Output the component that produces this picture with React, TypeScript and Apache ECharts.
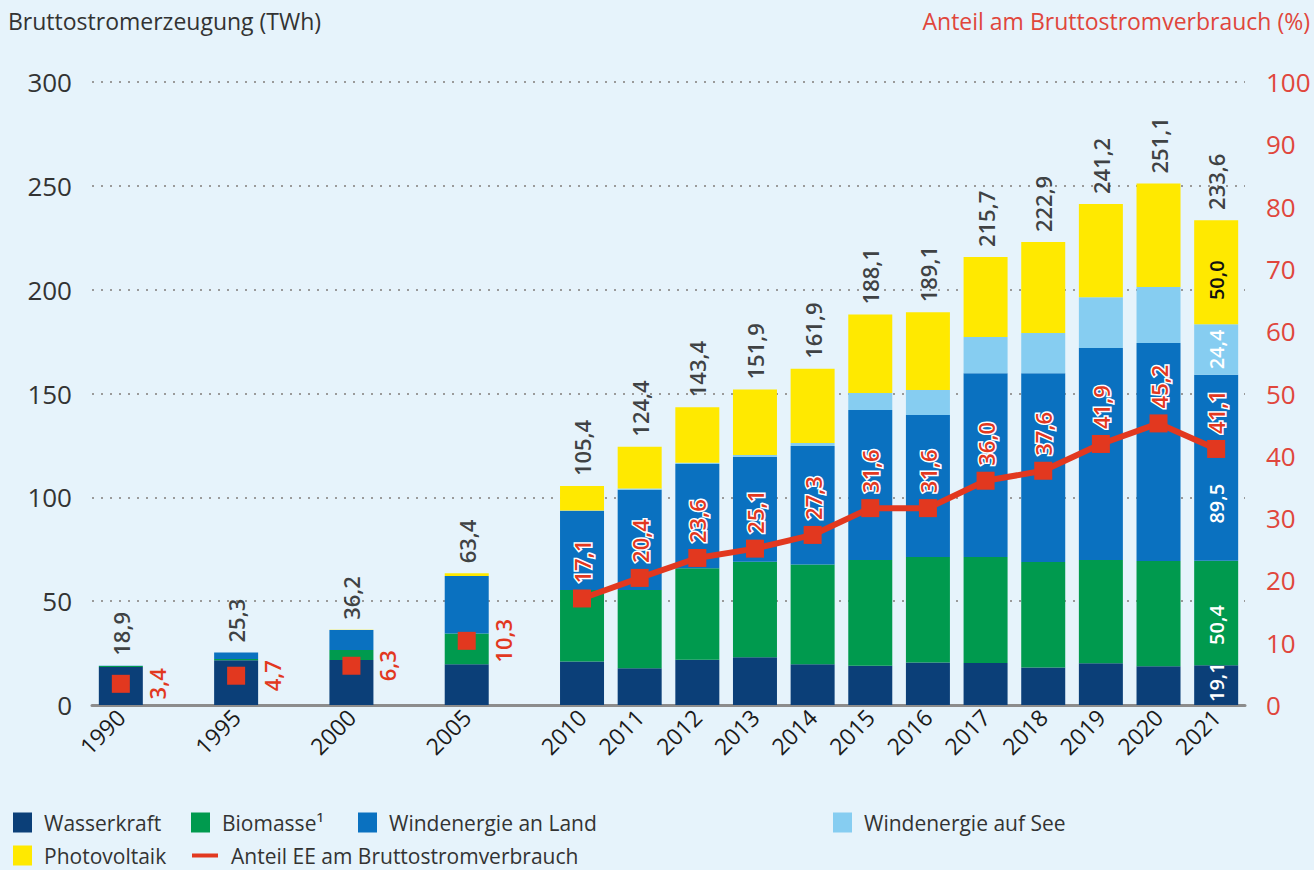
import React, { useEffect, useRef } from 'react';
import * as echarts from 'echarts';

const years = ['1990', '1995', '2000', '2005', '2010', '2011', '2012', '2013', '2014', '2015', '2016', '2017', '2018', '2019', '2020', '2021'];
const gapAfterYears = ['1990', '1995', '2000', '2005'];

const wasserkraft = [18.3, 21.6, 21.7, 19.6, 21.0, 17.7, 21.8, 23.0, 19.6, 18.9, 20.5, 20.2, 18.0, 20.1, 18.7, 19.1];
const biomasse = [0.5, 0.5, 4.8, 14.8, 34.4, 37.7, 44.0, 46.0, 48.1, 50.9, 50.8, 51.1, 50.9, 49.7, 50.6, 50.4];
const windLand = [0.1, 3.2, 9.6, 27.7, 38.1, 48.3, 50.2, 50.5, 57.0, 72.2, 68.3, 88.5, 90.9, 102.1, 105.0, 89.5];
const windSee = [0, 0, 0, 0, 0.2, 0.6, 0.7, 0.9, 1.5, 8.3, 12.1, 17.4, 19.3, 24.5, 27.0, 24.4];
const photovoltaik = [0, 0, 0.1, 1.3, 11.7, 20.1, 26.7, 31.5, 35.7, 37.8, 37.4, 38.5, 43.8, 44.8, 49.8, 50.0];
const totals = [18.9, 25.3, 36.2, 63.4, 105.4, 124.4, 143.4, 151.9, 161.9, 188.1, 189.1, 215.7, 222.9, 241.2, 251.1, 233.6];
const anteilEE = [3.4, 4.7, 6.3, 10.3, 17.1, 20.4, 23.6, 25.1, 27.3, 31.6, 31.6, 36.0, 37.6, 41.9, 45.2, 41.1];

const leftTicks = { min: 0, max: 300, interval: 50 };
const rightTicks = { min: 0, max: 100, interval: 10 };

const names = {
  wasser: 'Wasserkraft',
  bio: 'Biomasse\u00B9',
  land: 'Windenergie an Land',
  see: 'Windenergie auf See',
  pv: 'Photovoltaik',
  anteil: 'Anteil EE am Bruttostromverbrauch',
};

const FONT = '"Open Sans", Lato, sans-serif';
const RED = '#e2381f';
const VAL_SIZE = 22;
const INNER_SIZE = 20;
const fmt = (v: number) => v.toFixed(1).replace('.', ',');

// build slot layout: an empty slot after each early year
const categories: string[] = [];
const slotOfYear: number[] = [];
years.forEach((y) => {
  slotOfYear.push(categories.length);
  categories.push(y);
  if (gapAfterYears.includes(y)) categories.push('');
});

function toSlots(values: any[]): any[] {
  const out: any[] = categories.map(() => '-');
  values.forEach((v, i) => {
    out[slotOfYear[i]] = v;
  });
  return out;
}

const lastIdx = years.length - 1;

function barSeries(name: string, values: number[], color: string, labelColor: string, offsetY: number) {
  const items = values.map((v, i) => {
    if (i === lastIdx) {
      return {
        value: v,
        label: {
          show: true,
          position: 'inside',
          rotate: 90,
          align: 'center',
          verticalAlign: 'middle',
          offset: [-offsetY, 0],
          formatter: fmt(v),
          color: labelColor,
          fontSize: INNER_SIZE,
          fontFamily: FONT,
          fontWeight: 600,
        },
      };
    }
    return v;
  });
  return {
    name,
    type: 'bar',
    stack: 'ee',
    barWidth: 44,
    itemStyle: { color },
    data: toSlots(items),
    z: 2,
  };
}

const option: any = {
  animation: false,
  backgroundColor: '#e6f3fb',
  textStyle: { fontFamily: FONT },
  grid: { left: 92, right: 69, top: 82, bottom: 165 },
  graphic: [
    {
      type: 'text',
      left: 8,
      top: 9,
      style: { text: 'Bruttostromerzeugung (TWh)', fontSize: 23, fill: '#333', fontFamily: FONT },
    },
    {
      type: 'text',
      right: 4,
      top: 9,
      style: { text: 'Anteil am Bruttostromverbrauch (%)', fontSize: 23, fill: '#e0463c', fontFamily: FONT },
    },
  ],
  legend: [
    { name: names.wasser, left: 13, top: 812 },
    { name: names.bio, left: 191, top: 812 },
    { name: names.land, left: 358, top: 812 },
    { name: names.see, left: 833, top: 812 },
    { name: names.pv, left: 13, top: 845 },
  ].map((l) => ({
    left: l.left,
    top: l.top,
    padding: 0,
    data: [l.name],
    icon: 'rect',
    itemWidth: 19,
    itemHeight: 20,
    textStyle: { fontSize: 21, color: '#333', fontFamily: FONT, padding: [0, 0, 0, 7] },
  })).concat([
    {
      left: 192,
      top: 845,
      padding: 0,
      data: [names.anteil],
      icon: 'rect',
      itemWidth: 26,
      itemHeight: 4,
      textStyle: { fontSize: 21, color: '#333', fontFamily: FONT, padding: [0, 0, 0, 8] },
    } as any,
  ]),
  xAxis: {
    type: 'category',
    data: categories,
    axisTick: { show: false },
    axisLine: { show: true, lineStyle: { color: '#8c8c8c', width: 3 } },
    axisLabel: {
      interval: 0,
      rotate: 45,
      fontSize: 23,
      color: '#1a1a1a',
      fontFamily: FONT,
      margin: 8,
    },
  },
  yAxis: [
    {
      type: 'value',
      min: leftTicks.min,
      max: leftTicks.max,
      interval: leftTicks.interval,
      axisLine: { show: false },
      axisTick: { show: false },
      axisLabel: { fontSize: 26, color: '#333', fontFamily: FONT, margin: 20 },
      splitLine: { show: true, lineStyle: { color: '#9a9a9a', width: 2, type: [2, 7] } },
    },
    {
      type: 'value',
      min: rightTicks.min,
      max: rightTicks.max,
      interval: rightTicks.interval,
      axisLine: { show: false },
      axisTick: { show: false },
      axisLabel: { fontSize: 26, color: '#e0463c', fontFamily: FONT, margin: 21 },
      splitLine: { show: false },
    },
  ],
  series: [
    barSeries(names.wasser, wasserkraft, '#0b3f78', '#ffffff', -3),
    barSeries(names.bio, biomasse, '#009a4e', '#ffffff', 12),
    barSeries(names.land, windLand, '#0a71c0', '#ffffff', 36),
    barSeries(names.see, windSee, '#86cdf1', '#ffffff', 0),
    barSeries(names.pv, photovoltaik, '#ffe900', '#111111', 8),
    {
      name: 'Summe',
      type: 'scatter',
      symbolSize: 0,
      silent: true,
      data: toSlots(totals),
      z: 5,
      label: {
        show: true,
        position: 'top',
        distance: 10,
        rotate: 90,
        align: 'left',
        verticalAlign: 'middle',
        color: '#111',
        fontSize: VAL_SIZE,
        fontWeight: 600,
        fontFamily: FONT,
        formatter: (p: any) => fmt(p.value),
      },
    },
    {
      name: names.anteil,
      type: 'line',
      yAxisIndex: 1,
      symbol: 'rect',
      symbolSize: 18,
      showAllSymbol: true,
      connectNulls: false,
      lineStyle: { color: RED, width: 6 },
      itemStyle: { color: RED },
      z: 10,
      data: toSlots(
        anteilEE.map((v, i) => {
          const early = gapAfterYears.includes(years[i]);
          return {
            value: v,
            label: early
              ? {
                  show: true,
                  position: 'right',
                  distance: 27,
                  rotate: 90,
                  align: 'center',
                  verticalAlign: 'middle',
                  textBorderWidth: 0,
                }
              : {
                  show: true,
                  position: 'top',
                  distance: 6,
                  rotate: 90,
                  align: 'left',
                  verticalAlign: 'middle',
                },
          };
        })
      ),
      label: {
        show: true,
        color: RED,
        fontSize: VAL_SIZE,
        fontWeight: 600,
        fontFamily: FONT,
        textBorderColor: '#ffffff',
        textBorderWidth: 3,
        formatter: (p: any) => fmt(p.value),
      },
    },
  ],
};

export default function App() {
  const ref = useRef<HTMLDivElement>(null);
  useEffect(() => {
    const chart = echarts.init(ref.current!, null, { renderer: 'svg' });
    chart.setOption(option);
    return () => chart.dispose();
  }, []);
  return (
    <div
      ref={ref}
      style={{ position: 'fixed', left: 0, top: 0, width: 1314, height: 870, background: '#e6f3fb' }}
    />
  );
}
